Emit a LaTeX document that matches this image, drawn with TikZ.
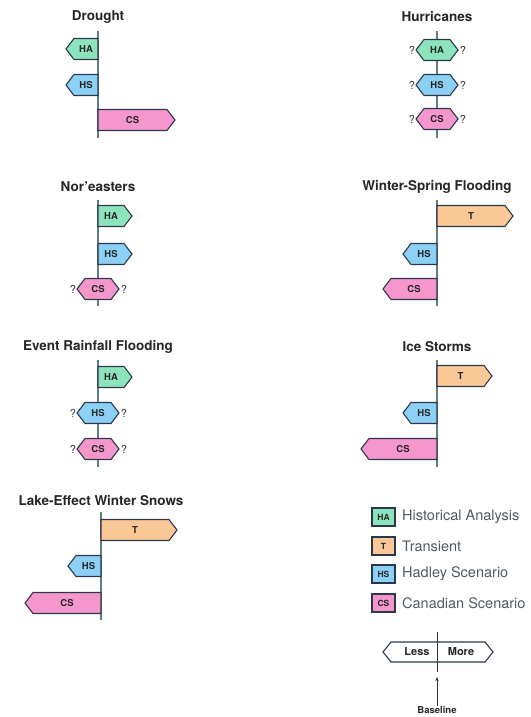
\documentclass[tikz,border=0pt]{standalone}
\usepackage{fontspec}
\setmainfont{TeX Gyre Heros}
\usetikzlibrary{arrows.meta}
\definecolor{cha}{RGB}{140,228,188}
\definecolor{chs}{RGB}{140,208,245}
\definecolor{ccs}{RGB}{245,150,205}
\definecolor{ct}{RGB}{250,200,150}
\definecolor{cline}{RGB}{45,55,75}
\definecolor{caxis}{RGB}{95,125,135}
\definecolor{clegtext}{RGB}{80,90,100}
\def\hh{10.5}
\def\tipd{8}
\tikzset{
  barshape/.style={draw=cline, line width=1.1pt, line join=miter},
  barlabel/.style={font=\bfseries\fontsize{9.5}{10}\selectfont, text=black!85, inner sep=0pt},
  paneltitle/.style={font=\bfseries\fontsize{13.5}{15}\selectfont, text=black!85, inner sep=0pt},
  axisline/.style={draw=caxis, line width=1.3pt},
  qmark/.style={font=\fontsize{11}{12}\selectfont, text=black!80, inner sep=0pt},
  legtext/.style={font=\fontsize{14.5}{16}\selectfont, text=clegtext, anchor=west, inner sep=0pt},
}
% left-pointing bar: #1 axis x, #2 tip x, #3 y, #4 colour, #5 label, #6 name
\newcommand\mkL[6]{%
  \pgfmathsetmacro\xb{#2+\tipd}%
  \draw[barshape,fill=#4] (#1,#3-\hh) -- (\xb,#3-\hh) -- (#2,#3) -- (\xb,#3+\hh) -- (#1,#3+\hh) -- cycle;
  \node[barlabel] (#6) at ({(#1+\xb)/2},#3) {#5};}
% right-pointing bar
\newcommand\mkR[6]{%
  \pgfmathsetmacro\xb{#2-\tipd}%
  \draw[barshape,fill=#4] (#1,#3-\hh) -- (\xb,#3-\hh) -- (#2,#3) -- (\xb,#3+\hh) -- (#1,#3+\hh) -- cycle;
  \node[barlabel] (#6) at ({(#1+\xb)/2},#3) {#5};}
% hexagon (uncertain): #1 centre x, #2 y, #3 colour, #4 label, #5 name
\newcommand\mkH[5]{%
  \draw[barshape,fill=#3] (#1-21,#2) -- (#1-13,#2-\hh) -- (#1+13,#2-\hh) -- (#1+21,#2) -- (#1+13,#2+\hh) -- (#1-13,#2+\hh) -- cycle;
  \node[barlabel] (#5) at (#1,#2) {#4};
  \node[qmark] (#5-ql) at (#1-25,#2) {?};
  \node[qmark] (#5-qr) at (#1+26,#2) {?};}
\begin{document}
\begin{tikzpicture}[x=1pt,y=-1pt]
\useasboundingbox (0,0) rectangle (530,717);
% ---------- Drought
\node[paneltitle] (t-dr) at (98,17) {Drought};
\draw[axisline] (98,31) -- (98,138);
\mkL{98}{66}{49}{cha}{HA}{dr-ha}
\mkL{98}{66}{85}{chs}{HS}{dr-hs}
\mkR{98}{175}{120}{ccs}{CS}{dr-cs}
% ---------- Hurricanes
\node[paneltitle] (t-hu) at (437,17) {Hurricanes};
\draw[axisline] (437,31) -- (437,138);
\mkH{437}{50}{cha}{HA}{hu-ha}
\mkH{437}{85}{chs}{HS}{hu-hs}
\mkH{437}{119}{ccs}{CS}{hu-cs}
% ---------- Nor'easters
\node[paneltitle] (t-ne) at (98,187) {Nor'easters};
\draw[axisline] (98,200) -- (98,306);
\mkR{98}{132}{216}{cha}{HA}{ne-ha}
\mkR{98}{132}{254}{chs}{HS}{ne-hs}
\mkH{98}{289}{ccs}{CS}{ne-cs}
% ---------- Winter-Spring Flooding
\node[paneltitle] (t-ws) at (437,187) {Winter-Spring Flooding};
\draw[axisline] (437,200) -- (437,306);
\mkR{437}{513}{216}{ct}{T}{ws-t}
\mkL{437}{403}{254}{chs}{HS}{ws-hs}
\mkL{437}{383}{289}{ccs}{CS}{ws-cs}
% ---------- Event Rainfall Flooding
\node[paneltitle] (t-er) at (98,347) {Event Rainfall Flooding};
\draw[axisline] (98,360) -- (98,467);
\mkR{98}{132}{377}{cha}{HA}{er-ha}
\mkH{98}{413}{chs}{HS}{er-hs}
\mkH{98}{449}{ccs}{CS}{er-cs}
% ---------- Ice Storms
\node[paneltitle] (t-is) at (437,347) {Ice Storms};
\draw[axisline] (437,360) -- (437,467);
\mkR{437}{492}{376}{ct}{T}{is-t}
\mkL{437}{403}{413}{chs}{HS}{is-hs}
\mkL{437}{361}{449}{ccs}{CS}{is-cs}
% ---------- Lake-Effect Winter Snows
\node[paneltitle] (t-le) at (101,501) {Lake-Effect Winter Snows};
\draw[axisline] (101,512) -- (101,620);
\mkR{101}{177}{530}{ct}{T}{le-t}
\mkL{101}{68}{566}{chs}{HS}{le-hs}
\mkL{101}{25}{603}{ccs}{CS}{le-cs}
% ---------- Legend
\foreach \yy/\cc/\ll/\tt/\nn in {517/cha/HA/Historical Analysis/lg-ha, 546/ct/T/Transient/lg-t, 574/chs/HS/Hadley Scenario/lg-hs, 603/ccs/CS/Canadian Scenario/lg-cs}{
  \draw[barshape,fill=\cc] (372,\yy-9) rectangle (395,\yy+9);
  \node[barlabel,font=\bfseries\fontsize{8.5}{9}\selectfont] (\nn-box) at (383.5,\yy) {\ll};
  \node[legtext] (\nn-text) at (402,\yy) {\tt};
}
% Less / More key
\draw[barshape,fill=white] (383,652) -- (391,642) -- (485,642) -- (493,652) -- (485,662) -- (391,662) -- cycle;
\draw[draw=cline, line width=1pt] (437,632) -- (437,672);
\node[barlabel,font=\bfseries\fontsize{11}{12}\selectfont] (less) at (417,652) {Less};
\node[barlabel,font=\bfseries\fontsize{11}{12}\selectfont] (more) at (461,652) {More};
\node[barlabel,font=\bfseries\fontsize{9.5}{10}\selectfont] (base) at (437,710) {Baseline};
\coordinate (basetip) at (437,677);
\draw[draw=cline, line width=0.9pt, -{Stealth[length=4pt,width=3.5pt]}] (base.north) -- (basetip);
\end{tikzpicture}
\end{document}
